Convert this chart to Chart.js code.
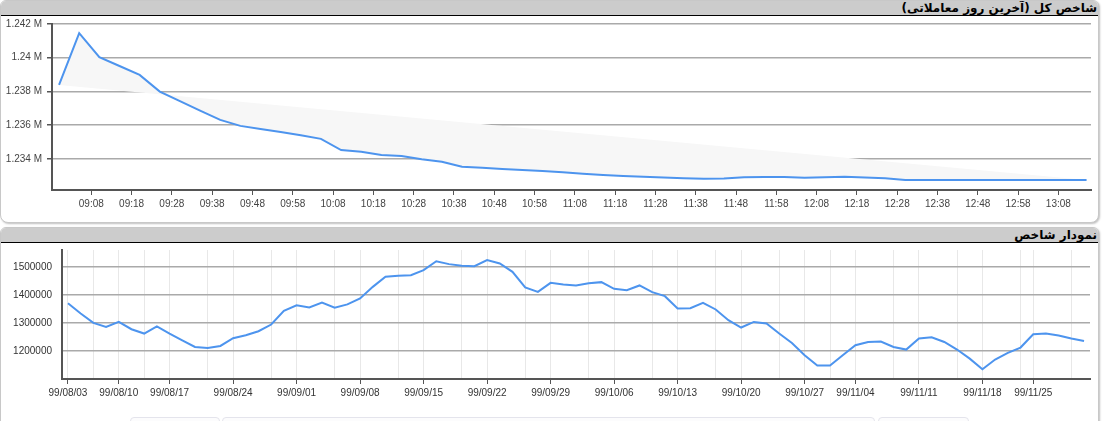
<!DOCTYPE html>
<html>
<head>
<meta charset="utf-8">
<script src="https://cdn.jsdelivr.net/npm/chart.js@4/dist/chart.umd.min.js"></script>
<style>
  body { margin: 0; background: #fff; width: 1104px; height: 421px; overflow: hidden; position: relative; }
  .panel { position: absolute; left: 0; width: 1097px; border: 1px solid #c8c8c8; border-radius: 6px 6px 8px 8px;
           box-shadow: 1px 1px 2px rgba(0,0,0,0.25); background: #fff; overflow: hidden; }
  .head { height: 14px; background: #cccccc; border-bottom: 1.5px solid #000; direction: rtl; text-align: right;
          font: bold 12px "DejaVu Sans", sans-serif; line-height: 14px; color: #000; padding-right: 1px; }
  canvas { position: absolute; }
  .tab { position: absolute; top: 417px; height: 20px; border: 1px solid #e4e4ec; border-radius: 4px; background: #fcfcfd; }
</style>
</head>
<body>
<div class="panel" style="top:0; height:221px;"><div class="head">شاخص کل (آخرین روز معاملاتی)</div></div>
<div class="panel" style="top:227px; height:260px;"><div class="head">نمودار شاخص</div></div>
<div class="tab" style="left:130px; width:88px;"></div>
<div class="tab" style="left:222px; width:651px;"></div>
<div class="tab" style="left:878px; width:89px;"></div>
<canvas id="intraday" style="left:0; top:16px;" width="1098" height="206"></canvas>
<canvas id="history" style="left:0; top:242px;" width="1098" height="179"></canvas>
<script>
// intraday index (last trading day)
const times = ['09:00','09:05','09:10','09:15','09:20','09:25','09:30','09:35','09:40','09:45',
  '09:50','09:55','10:00','10:05','10:10','10:15','10:20','10:25','10:30','10:35',
  '10:40','10:45','10:50','10:55','11:00','11:05','11:10','11:15','11:20','11:25',
  '11:30','11:35','11:40','11:45','11:50','11:55','12:00','12:05','12:10','12:15',
  '12:20','12:25','12:30','12:35','12:40','12:45','12:50','12:55','13:00','13:05','13:10','13:15'];
const intraday = [1238390, 1241460, 1240040, 1239510, 1238985, 1237995, 1237430, 1236870, 1236315, 1235960,
  1235780, 1235600, 1235405, 1235190, 1234530, 1234430, 1234240, 1234170, 1233980, 1233840,
  1233545, 1233480, 1233410, 1233345, 1233280, 1233210, 1233130, 1233050, 1232995, 1232940,
  1232900, 1232860, 1232830, 1232840, 1232920, 1232930, 1232930, 1232880, 1232920, 1232950,
  1232900, 1232860, 1232760, 1232750, 1232750, 1232750, 1232750, 1232750, 1232750, 1232750, 1232750, 1232750];
const timeTicks = ['09:08','09:18','09:28','09:38','09:48','09:58','10:08','10:18','10:28','10:38','10:48','10:58',
  '11:08','11:18','11:28','11:38','11:48','11:58','12:08','12:18','12:28','12:38','12:48','12:58','13:08'];
const intradayTicks = [1234000, 1236000, 1238000, 1240000, 1242000];

// daily index history
const dates = ['99/08/03','99/08/04','99/08/05','99/08/06',
  '99/08/10','99/08/11','99/08/12','99/08/14',
  '99/08/17','99/08/18','99/08/19','99/08/20','99/08/21',
  '99/08/24','99/08/25','99/08/26','99/08/27','99/08/28',
  '99/09/01','99/09/02','99/09/03','99/09/04','99/09/05',
  '99/09/08','99/09/09','99/09/10','99/09/11','99/09/12',
  '99/09/15','99/09/16','99/09/17','99/09/18','99/09/19',
  '99/09/22','99/09/23','99/09/24','99/09/25','99/09/26',
  '99/09/29','99/09/30','99/10/01','99/10/02','99/10/03',
  '99/10/06','99/10/07','99/10/08','99/10/09','99/10/10',
  '99/10/13','99/10/14','99/10/15','99/10/16','99/10/17',
  '99/10/20','99/10/21','99/10/22','99/10/23','99/10/24',
  '99/10/27','99/10/29','99/10/30','99/11/01',
  '99/11/04','99/11/05','99/11/06','99/11/07','99/11/08',
  '99/11/11','99/11/12','99/11/13','99/11/14','99/11/15',
  '99/11/18','99/11/19','99/11/20','99/11/21',
  '99/11/25','99/11/26','99/11/27','99/11/28','99/11/29'];
const history = [1370000, 1333600, 1300000, 1285700, 1303600, 1277500, 1262000, 1288000, 1262000, 1238000,
  1214300, 1210700, 1217900, 1245400, 1256000, 1270300, 1294300, 1343000, 1363000, 1355000,
  1372900, 1354000, 1366000, 1387000, 1428600, 1464300, 1468000, 1470000, 1488000, 1520000,
  1509600, 1503600, 1502500, 1524000, 1512000, 1482000, 1426400, 1410700, 1442900, 1437100,
  1433600, 1441800, 1445400, 1421400, 1416800, 1433600, 1409600, 1395400, 1351400, 1352500,
  1371600, 1347900, 1309600, 1283600, 1303600, 1297900, 1262000, 1228600, 1184600, 1147900,
  1147900, 1184600, 1220400, 1232100, 1233500, 1214300, 1205000, 1244300, 1249000, 1232100,
  1205000, 1172700, 1134700, 1169300, 1192900, 1212100, 1259600, 1262000, 1255000, 1244300, 1235700];
const dateLabels = ['99/08/03','99/08/10','99/08/17','99/08/24','99/09/01','99/09/08','99/09/15','99/09/22',
  '99/09/29','99/10/06','99/10/13','99/10/20','99/10/27','99/11/04','99/11/11','99/11/18','99/11/25'];
const gridDates = ['99/08/03','99/08/05','99/08/10','99/08/12','99/08/17','99/08/20','99/08/24','99/08/27',
  '99/09/01','99/09/04','99/09/08','99/09/11','99/09/15','99/09/18','99/09/22','99/09/25','99/09/29','99/10/02',
  '99/10/06','99/10/09','99/10/13','99/10/16','99/10/20','99/10/23','99/10/27','99/10/30','99/11/04','99/11/07',
  '99/11/11','99/11/14','99/11/18','99/11/21','99/11/25','99/11/28'];
const historyTicks = [1200000, 1300000, 1400000, 1500000];

const BLUE = '#4d94ee';
const TXT = '#444';
const FONT = { family: 'Arial, "Liberation Sans", sans-serif', size: 10 };

const toMin = s => { const p = s.split(':'); return (+p[0] - 9) * 60 + (+p[1]); };
const fromMin = m => { const h = 9 + Math.floor(m / 60), mm = m % 60; return String(h).padStart(2, '0') + ':' + String(mm).padStart(2, '0'); };

// keep the tick label padding from pushing the plot area down
const fixY = w => s => { s.width = w; s.paddingTop = 0; s.paddingBottom = 0; };

const linePts = times.map((t, i) => ({ x: toMin(t), y: intraday[i] }));
const chord = [linePts[0], linePts[linePts.length - 1]];

new Chart(document.getElementById('intraday'), {
  type: 'line',
  data: {
    datasets: [
      { data: linePts, borderColor: BLUE, borderWidth: 2, pointRadius: 0, tension: 0,
        fill: { target: 1, above: '#f7f7f7', below: '#f7f7f7' } },
      { data: chord, borderWidth: 0, borderColor: 'rgba(0,0,0,0)', pointRadius: 0, fill: false }
    ]
  },
  options: {
    responsive: false, animation: false,
    layout: { padding: { top: 8, right: 7, left: 0, bottom: 0 } },
    plugins: { legend: { display: false }, tooltip: { enabled: false } },
    scales: {
      x: {
        type: 'linear', min: -1.75, max: 256.1,
        afterBuildTicks: s => { s.ticks = timeTicks.map(t => ({ value: toMin(t) })); },
        afterFit: s => { s.height = 32; },
        grid: { drawOnChartArea: false, tickLength: 5, tickColor: '#555' },
        border: { color: '#555', width: 2 },
        ticks: { color: TXT, font: FONT, padding: 3, maxRotation: 0, autoSkip: false, callback: v => fromMin(v) }
      },
      y: {
        min: 1232160, max: 1242000,
        afterBuildTicks: s => { s.ticks = intradayTicks.map(v => ({ value: v })); },
        afterFit: fixY(52),
        grid: { color: '#aaa', lineWidth: 1.5, tickLength: 5, tickColor: '#555' },
        border: { color: '#555', width: 2 },
        ticks: { color: TXT, font: FONT, padding: 5, callback: v => parseFloat((v / 1e6).toFixed(3)) + ' M' }
      }
    }
  }
});

const idxOf = d => dates.indexOf(d);
const labelIdx = dateLabels.map(idxOf);

new Chart(document.getElementById('history'), {
  type: 'line',
  data: {
    datasets: [
      { data: history.map((v, i) => ({ x: i, y: v })), borderColor: BLUE, borderWidth: 2, pointRadius: 0, tension: 0, fill: false }
    ]
  },
  options: {
    responsive: false, animation: false,
    layout: { padding: { top: 8, right: 8, left: 0, bottom: 0 } },
    plugins: { legend: { display: false }, tooltip: { enabled: false } },
    scales: {
      x: {
        type: 'linear', min: -0.47, max: 80.47,
        afterBuildTicks: s => { s.ticks = gridDates.map(d => ({ value: idxOf(d) })); },
        afterFit: s => { s.height = 42; },
        grid: { color: '#e8e8e8', lineWidth: 1, tickLength: 5,
                tickColor: c => (c.tick && labelIdx.includes(c.tick.value)) ? '#555' : 'rgba(0,0,0,0)' },
        border: { color: '#555', width: 2 },
        ticks: { color: '#333', font: FONT, padding: 3, maxRotation: 0, autoSkip: false,
                 callback: v => labelIdx.includes(v) ? dates[v] : '' }
      },
      y: {
        min: 1100000, max: 1560000,
        afterBuildTicks: s => { s.ticks = historyTicks.map(v => ({ value: v })); },
        afterFit: fixY(62),
        grid: { color: '#aaa', lineWidth: 1.5, drawTicks: false },
        border: { color: '#555', width: 2 },
        ticks: { color: '#333', font: FONT, padding: 10, callback: v => String(v) }
      }
    }
  }
});
</script>
</body>
</html>
